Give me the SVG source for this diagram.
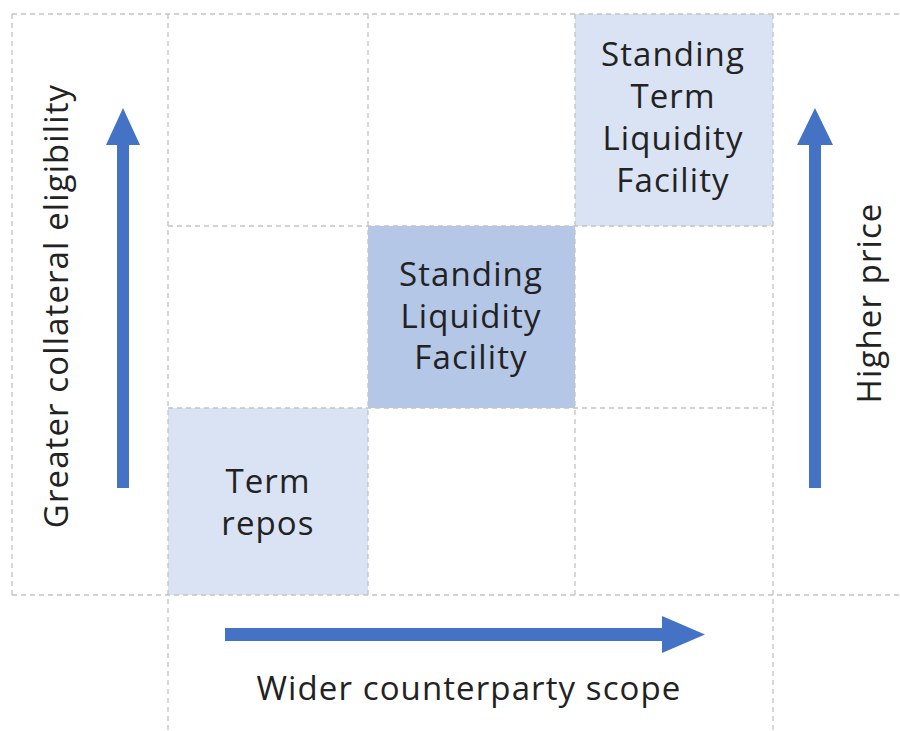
<svg xmlns="http://www.w3.org/2000/svg" width="900" height="731" viewBox="0 0 900 731">
  <style>
    .grid { stroke: #c4c4c4; stroke-width: 1.3; stroke-dasharray: 5 4; fill: none; }
    .light { fill: #dae3f3; }
    .dark { fill: #b4c7e7; }
    .arrow { fill: #4472c4; }
    text { font-family: "Open Sans", "Noto Sans", "Liberation Sans", sans-serif; fill: #222; text-anchor: middle; font-size: 33px; letter-spacing: 1.1px; }
  </style>
  <rect width="900" height="731" fill="#ffffff"/>

  <!-- shaded cells -->
  <g id="term-repos">
    <rect class="light" x="168" y="408" width="200" height="187"/>
    <text x="268" y="493">Term</text>
    <text x="268" y="535">repos</text>
  </g>
  <g id="standing-liquidity-facility">
    <rect class="dark" x="368" y="226" width="207" height="182"/>
    <text x="471" y="286">Standing</text>
    <text x="471" y="328">Liquidity</text>
    <text x="471" y="369">Facility</text>
  </g>
  <g id="standing-term-liquidity-facility">
    <rect class="light" x="575" y="14" width="198" height="212"/>
    <text x="673" y="66">Standing</text>
    <text x="673" y="108">Term</text>
    <text x="673" y="150">Liquidity</text>
    <text x="673" y="192">Facility</text>
  </g>

  <!-- dashed grid -->
  <g id="grid">
    <line class="grid" x1="12" y1="14" x2="900" y2="14"/>
    <line class="grid" x1="168" y1="226" x2="773" y2="226"/>
    <line class="grid" x1="168" y1="408" x2="773" y2="408"/>
    <line class="grid" x1="12" y1="595" x2="900" y2="595"/>
    <line class="grid" x1="12" y1="14" x2="12" y2="595"/>
    <line class="grid" x1="168" y1="14" x2="168" y2="731"/>
    <line class="grid" x1="368" y1="14" x2="368" y2="595"/>
    <line class="grid" x1="575" y1="14" x2="575" y2="595"/>
    <line class="grid" x1="773" y1="14" x2="773" y2="731"/>
  </g>

  <!-- axis arrows -->
  <g id="connectors">
    <path class="arrow" d="M117,488 V145 H106 L123,108 L140,145 H129 V488 Z"/>
    <path class="arrow" d="M809,488 V145 H797 L815,108 L833,145 H821 V488 Z"/>
    <path class="arrow" d="M225,628 H662 V616 L705,634.5 L662,653 V641 H225 Z"/>
  </g>

  <!-- axis labels -->
  <g id="labels">
    <text transform="translate(68,306) rotate(-90)">Greater collateral eligibility</text>
    <text transform="translate(881,303) rotate(-90)">Higher price</text>
    <text x="469" y="700">Wider counterparty scope</text>
  </g>
</svg>
